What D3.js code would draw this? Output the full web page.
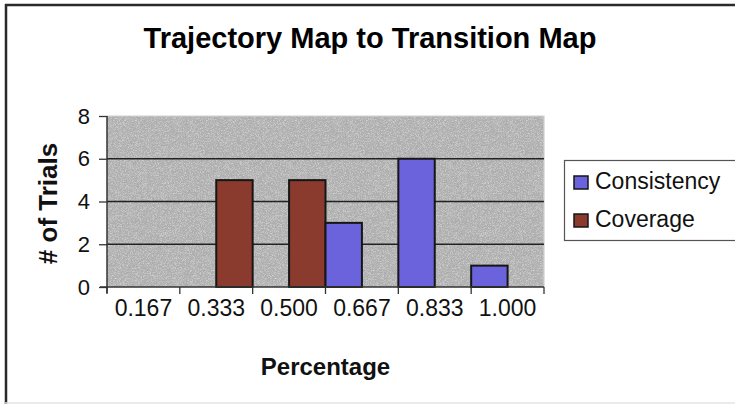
<!DOCTYPE html>
<html>
<head>
<meta charset="utf-8">
<script src="https://cdn.jsdelivr.net/npm/d3@7"></script>
<style>
  html, body { margin: 0; padding: 0; background: #fff; }
  svg { display: block; }
  text { font-family: "Liberation Sans", Arial, sans-serif; fill: #111; }
</style>
</head>
<body>
<svg id="chart" width="735" height="408"></svg>
<script>
// Histogram of trial percentages for the two measures
const categories = ["0.167", "0.333", "0.500", "0.667", "0.833", "1.000"];
const seriesNames = ["Consistency", "Coverage"];
const consistency = [0, 0, 0, 3, 6, 1];
const coverage = [0, 5, 5, 0, 0, 0];
const yTicks = [0, 2, 4, 6, 8];
const colors = { Consistency: "#6b63dc", Coverage: "#8b3a2e" };

const svg = d3.select("#chart");

// plot rectangle
const plotL = 107, plotR = 544, plotT = 116, plotB = 287;

const x = d3.scaleBand().domain(categories).range([plotL, plotR]).padding(0);
const xs = d3.scaleBand().domain(seriesNames).range([0, x.bandwidth()]).padding(0);
const y = d3.scaleLinear().domain([0, 8]).range([plotB, plotT]);

// fine grain texture for the plot background
const defs = svg.append("defs");
const f = defs.append("filter").attr("id", "grain")
  .attr("x", 0).attr("y", 0).attr("width", "100%").attr("height", "100%");
f.append("feTurbulence").attr("type", "fractalNoise")
  .attr("baseFrequency", 1.6).attr("numOctaves", 1).attr("seed", 7).attr("result", "n");
f.append("feColorMatrix").attr("in", "n").attr("type", "matrix")
  .attr("values", "0 0 0 0 1  0 0 0 0 1  0 0 0 0 1  2.2 0 0 0 -0.95");

// outer chart frame
svg.append("line").attr("x1", 6).attr("y1", 4).attr("x2", 6).attr("y2", 404)
  .attr("stroke", "#2a2a2a").attr("stroke-width", 2.5);
svg.append("line").attr("x1", 5).attr("y1", 5).attr("x2", 735).attr("y2", 5)
  .attr("stroke", "#2a2a2a").attr("stroke-width", 2.5);
svg.append("line").attr("x1", 5).attr("y1", 403).attr("x2", 735).attr("y2", 403)
  .attr("stroke", "#e4e4e4").attr("stroke-width", 1.5);

// title
svg.append("text").attr("x", 370).attr("y", 48).attr("text-anchor", "middle")
  .attr("font-size", 29).attr("font-weight", "bold").style("fill", "#000")
  .text("Trajectory Map to Transition Map");

// plot background
svg.append("rect").attr("x", plotL).attr("y", plotT)
  .attr("width", plotR - plotL).attr("height", plotB - plotT).attr("fill", "#aeaeae");
svg.append("rect").attr("x", plotL).attr("y", plotT)
  .attr("width", plotR - plotL).attr("height", plotB - plotT)
  .attr("fill", "#fff").attr("filter", "url(#grain)").attr("opacity", 0.6);

// plot border (top / right)
svg.append("path")
  .attr("d", `M${plotL},${plotT}H${plotR}V${plotB}`)
  .attr("fill", "none").attr("stroke", "#cfcfcf").attr("stroke-width", 1.2);

// gridlines
svg.append("g").selectAll("line")
  .data(yTicks.filter(v => v > 0 && v < 8))
  .join("line")
  .attr("x1", plotL).attr("x2", plotR)
  .attr("y1", d => y(d)).attr("y2", d => y(d))
  .attr("stroke", "#222").attr("stroke-width", 1.5);

// bars
const rows = categories.map((c, i) => ({ c, Consistency: consistency[i], Coverage: coverage[i] }));
const bars = [];
rows.forEach(r => seriesNames.forEach(s => { if (r[s] > 0) bars.push({ c: r.c, s, v: r[s] }); }));
svg.append("g").selectAll("rect")
  .data(bars)
  .join("rect")
  .attr("x", d => x(d.c) + xs(d.s))
  .attr("y", d => y(d.v))
  .attr("width", xs.bandwidth())
  .attr("height", d => y(0) - y(d.v))
  .attr("fill", d => colors[d.s])
  .attr("stroke", "#161616").attr("stroke-width", 2);

// y axis
const yAxis = svg.append("g").attr("transform", `translate(${plotL},0)`)
  .call(d3.axisLeft(y).tickValues(yTicks).tickFormat(d3.format("d")).tickSize(8).tickPadding(9));
yAxis.select(".domain").attr("stroke", "#333").attr("stroke-width", 1.5)
  .attr("d", `M0,${plotT}V${plotB + 6}`);
yAxis.selectAll(".tick line").attr("stroke", "#333").attr("stroke-width", 1.3);
yAxis.selectAll(".tick text").attr("font-size", 22)
  .attr("font-family", "'Liberation Sans', Arial, sans-serif").style("fill", "#111");

// x axis: labels centred in each category, ticks on category boundaries
const xAxis = svg.append("g").attr("transform", `translate(0,${plotB})`)
  .call(d3.axisBottom(x).tickSize(0).tickPadding(13));
xAxis.select(".domain").attr("stroke", "#333").attr("stroke-width", 1.5)
  .attr("d", `M${plotL - 7},0H${plotR}`);
xAxis.selectAll(".tick text").attr("font-size", 23)
  .attr("font-family", "'Liberation Sans', Arial, sans-serif").style("fill", "#111");
const bounds = categories.map(c => x(c)).concat([x(categories[categories.length - 1]) + x.bandwidth()]);
xAxis.append("g").selectAll("line")
  .data(bounds)
  .join("line")
  .attr("x1", d => d).attr("x2", d => d)
  .attr("y1", 0).attr("y2", 7)
  .attr("stroke", "#333").attr("stroke-width", 1.3);

// axis titles
svg.append("text").attr("x", (plotL + plotR) / 2).attr("y", 375)
  .attr("text-anchor", "middle").attr("font-size", 24).attr("font-weight", "bold")
  .text("Percentage");
svg.append("text")
  .attr("transform", `translate(57,${(plotT + plotB) / 2 + 2}) rotate(-90)`)
  .attr("text-anchor", "middle").attr("font-size", 26).attr("font-weight", "bold")
  .text("# of Trials");

// legend
const lg = svg.append("g");
lg.append("rect").attr("x", 564.5).attr("y", 160.5).attr("width", 190).attr("height", 80)
  .attr("fill", "#fff").attr("stroke", "#555").attr("stroke-width", 1.2);
const baselines = [189, 227];
seriesNames.forEach((s, i) => {
  lg.append("rect").attr("x", 574).attr("y", baselines[i] - 13)
    .attr("width", 14).attr("height", 13)
    .attr("fill", colors[s]).attr("stroke", "#161616").attr("stroke-width", 1.5);
  lg.append("text").attr("x", 595).attr("y", baselines[i])
    .attr("font-size", 23).text(s);
});
</script>
</body>
</html>
